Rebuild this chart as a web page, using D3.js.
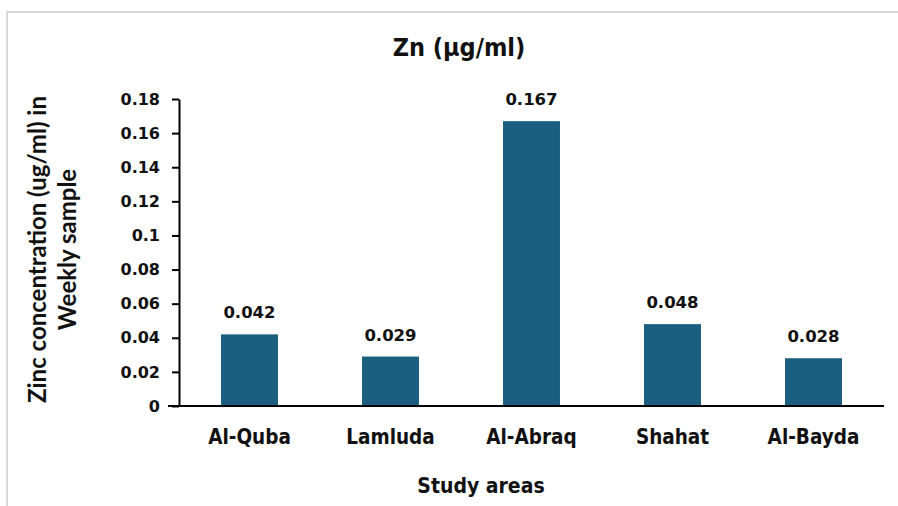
<!DOCTYPE html>
<html><head><meta charset="utf-8">
<script src="https://cdn.jsdelivr.net/npm/d3@7"></script>
<style>body{margin:0;background:#fff}svg{display:block}</style>
</head><body>
<svg id="c" width="898" height="506"></svg>
<script>
const categories = ["Al-Quba","Lamluda","Al-Abraq","Shahat","Al-Bayda"];
const values = [0.042,0.029,0.167,0.048,0.028];
const valueLabels = ["0.042","0.029","0.167","0.048","0.028"];
const yTicks = [0,0.02,0.04,0.06,0.08,0.1,0.12,0.14,0.16,0.18];
const yTickLabels = ["0","0.02","0.04","0.06","0.08","0.1","0.12","0.14","0.16","0.18"];
const title = "Zn (μg/ml)";
const xTitle = "Study areas";
const yTitleLines = ["Zinc concentration (ug/ml) in","Weekly sample"];

const svg = d3.select("#c");
const narrow = "'DejaVu Sans Condensed','Liberation Sans Narrow',sans-serif";
const wide = "'DejaVu Sans',Verdana,sans-serif";

// frame
svg.append("rect").attr("x",7).attr("y",12).attr("width",905).attr("height",510)
  .attr("fill","#fff").attr("stroke","#d9d9d9").attr("stroke-width",2);

const x0=179,x1=884,yb=406,yt=99;
const x = d3.scaleBand().domain(categories).range([x0,x1]).paddingInner(0.596).paddingOuter(0.298);
const y = d3.scaleLinear().domain([0,0.18]).range([yb,yt]);

svg.selectAll("rect.bar").data(values).join("rect").attr("class","bar")
  .attr("x",(d,i)=>x(categories[i])).attr("width",x.bandwidth())
  .attr("y",d=>y(d)).attr("height",d=>y(0)-y(d)).attr("fill","#1a5e80");

svg.selectAll("text.vl").data(values).join("text").attr("class","vl")
  .attr("x",(d,i)=>x(categories[i])+x.bandwidth()/2).attr("y",d=>y(d)-16)
  .attr("text-anchor","middle").attr("font-family",wide).attr("font-weight","bold")
  .attr("font-size",16.5).attr("fill","#111").text((d,i)=>valueLabels[i]);

// y axis
const ya = svg.append("g").attr("transform",`translate(${x0},0)`)
  .call(d3.axisLeft(y).tickValues(yTicks).tickFormat((d,i)=>yTickLabels[i]).tickSize(7).tickSizeOuter(0).tickPadding(12));
ya.select(".domain").attr("stroke","#000").attr("stroke-width",2);
ya.selectAll(".tick line").attr("stroke","#000").attr("stroke-width",2);
ya.selectAll(".tick text").attr("font-family",wide).attr("font-weight","bold").attr("font-size",16).attr("fill","#111");

// x axis
const xa = svg.append("g").attr("transform",`translate(0,${yb})`)
  .call(d3.axisBottom(x).tickSize(0).tickPadding(23));
xa.select(".domain").attr("d",`M${x0-11},0H${x1}`).attr("stroke","#000").attr("stroke-width",2);
xa.selectAll(".tick text").attr("font-family",narrow).attr("font-weight","bold").attr("font-size",20.5).attr("fill","#111");

svg.append("text").attr("x",459).attr("y",56).attr("text-anchor","middle")
  .attr("font-family",narrow).attr("font-weight","bold").attr("font-size",25).attr("fill","#111").text(title);
svg.append("text").attr("x",481).attr("y",493).attr("text-anchor","middle")
  .attr("font-family",narrow).attr("font-weight","bold").attr("font-size",21).attr("fill","#111").text(xTitle);

yTitleLines.forEach((t,i)=>{
  svg.append("text").attr("transform",`translate(${46+i*30},249.5) rotate(-90)`)
    .attr("text-anchor","middle").attr("font-family","Lato,sans-serif").attr("font-weight","bold")
    .attr("font-size",24).attr("fill","#111").text(t);
});
</script>
</body></html>
